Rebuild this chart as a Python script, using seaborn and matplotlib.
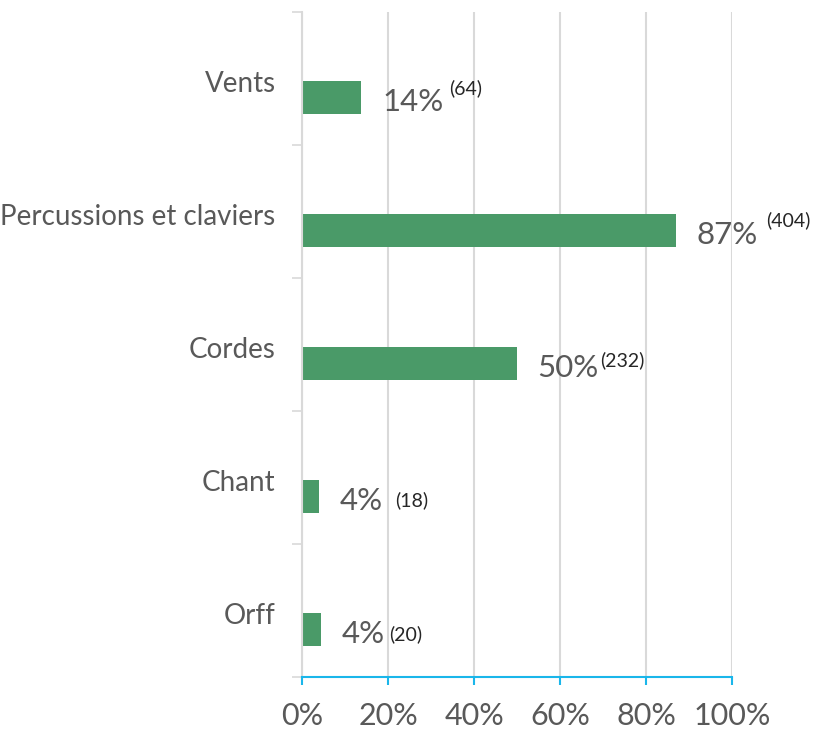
import numpy as np
import pandas as pd
import seaborn as sns
import matplotlib.pyplot as plt
from matplotlib.ticker import PercentFormatter

# data (N = 465 répondants)
categories = ['Vents', 'Percussions et claviers', 'Cordes', 'Chant', 'Orff']
percents = [13.8, 86.9, 49.9, 3.9, 4.3]
pct_labels = ['14%', '87%', '50%', '4%', '4%']
counts = [64, 404, 232, 18, 20]

df = pd.DataFrame({'categorie': categories, 'pourcentage': percents})

sns.set_theme(style='white')
plt.rcParams['font.family'] = ['Lato', 'DejaVu Sans']
text_color = '#595959'
grid_color = '#d9d9d9'
axis_blue = '#1ab6ea'

fig = plt.figure(figsize=(8.15, 7.32), dpi=100)
ax = fig.add_axes([0.3706, 0.0751, 0.5276, 0.9085])

sns.barplot(data=df, x='pourcentage', y='categorie', orient='h', color='#4a9a68',
            saturation=1, width=0.25, linewidth=0, ax=ax)

# bars sit a little below the middle of each category band
shift = 0.143
n = len(categories)
ax.set_ylim(n - 0.5 - shift, -0.5 - shift)
ax.set_yticks([i - shift + 0.02 for i in range(n)], categories)
ax.set_yticks(np.arange(n + 1) - 0.5 - shift, minor=True)
ax.tick_params(axis='y', which='major', length=0, pad=19, labelsize=20, labelcolor=text_color)
ax.tick_params(axis='y', which='minor', left=True, length=7, width=1.2, color=grid_color)

ax.set_xlim(0, 100)
ax.set_xticks(range(0, 101, 20))
ax.xaxis.set_major_formatter(PercentFormatter(decimals=0))
ax.tick_params(axis='x', bottom=True, length=6, width=1.5, color=axis_blue, pad=12,
               labelsize=22, labelcolor=text_color)
ax.grid(axis='x', color=grid_color, linewidth=1.5)
ax.set_axisbelow(True)
ax.set_xlabel('')
ax.set_ylabel('')

for side in ['top', 'right']:
    ax.spines[side].set_visible(False)
ax.spines['left'].set_color(grid_color)
ax.spines['left'].set_linewidth(1.5)
ax.spines['bottom'].set_color(axis_blue)
ax.spines['bottom'].set_linewidth(1.5)

# value labels with the count in small type after them
sup_gap = [4, 6, 1, 9, 3]
sup_raise = [10, 11, 6, 1, 0]
for bar, pct, cnt, g, r in zip(ax.patches, pct_labels, counts, sup_gap, sup_raise):
    yc = bar.get_y() + bar.get_height() / 2
    t = ax.annotate(pct, xy=(bar.get_width(), yc), xytext=(15, -3.5),
                    textcoords='offset points', ha='left', va='center',
                    fontsize=22.5, color=text_color)
    ax.annotate(f'({cnt})', xy=(1, 0.5), xycoords=t, xytext=(g, r),
                textcoords='offset points', ha='left', va='center',
                fontsize=14, color='#262626')

fig.savefig('out.png', dpi=100)
